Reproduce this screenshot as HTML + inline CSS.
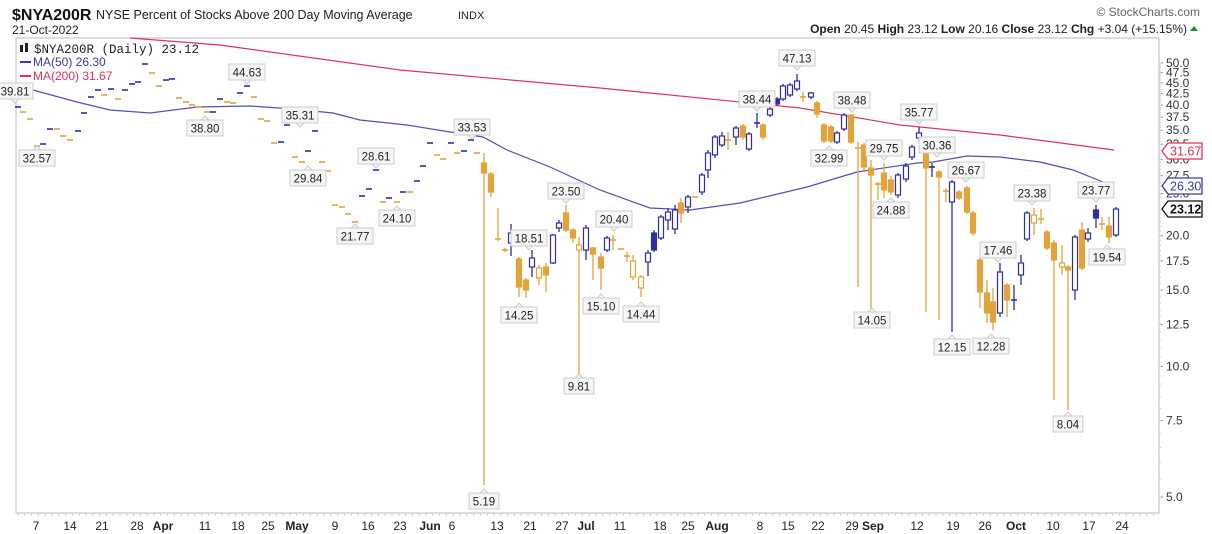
<!DOCTYPE html>
<html><head><meta charset="utf-8"><style>
body{margin:0;background:#fff;width:1212px;height:534px;overflow:hidden;font-family:"Liberation Sans",sans-serif}
svg{position:absolute;left:0;top:0}
</style></head><body>
<svg id="s" width="1212" height="534" xmlns="http://www.w3.org/2000/svg" font-family="Liberation Sans, sans-serif">
<rect x="16" y="38" width="1143" height="475" fill="#fff" stroke="#bbb"/>
<text x="12" y="20" font-size="16" font-weight="bold" fill="#111">$NYA200R</text>
<text x="96" y="19" font-size="12.5" fill="#222">NYSE Percent of Stocks Above 200 Day Moving Average</text>
<text x="458" y="19" font-size="11" fill="#222">INDX</text>
<text x="12" y="34" font-size="12" fill="#222">21-Oct-2022</text>
<text x="1200" y="16" font-size="12" fill="#666" text-anchor="end">© StockCharts.com</text>
<text x="1187" y="33" font-size="12" fill="#222" text-anchor="end"><tspan font-weight="bold">Open</tspan> 20.45  <tspan font-weight="bold">High</tspan> 23.12  <tspan font-weight="bold">Low</tspan> 20.16  <tspan font-weight="bold">Close</tspan> 23.12  <tspan font-weight="bold">Chg</tspan> +3.04 (+15.15%)</text>
<polygon points="1190,31 1198,31 1194,26" fill="#2a8a2a"/>
<g id="g"></g>
<text x="34" y="53" font-size="12.5" fill="#222" font-family="Liberation Mono, monospace">$NYA200R (Daily) 23.12</text>
<rect x="20" y="45" width="3" height="7" fill="#222"/><rect x="25" y="43" width="3" height="9" fill="#222"/>
<line x1="20" y1="62" x2="31" y2="62" stroke="#3a3aa8" stroke-width="2"/>
<text x="33" y="66" font-size="12" fill="#3a3aa8">MA(50) 26.30</text>
<line x1="20" y1="76" x2="31" y2="76" stroke="#e03358" stroke-width="2"/>
<text x="33" y="80" font-size="12" fill="#e03358">MA(200) 31.67</text>
</svg>
<script>
var g=document.getElementById('g'),h='';
var GO='#e2a33a',BL='#2e2e9e';
function Y(v){return 63+434*Math.log10(50/v);}
var ax=[50,47.5,45,42.5,40,37.5,35,32.5,30,27.5,25,20,17.5,15,12.5,10,7.5,5];
ax.forEach(function(v){var y=Y(v);h+='<line x1="1159" y1="'+y+'" x2="1163" y2="'+y+'" stroke="#999"/><text x="1166" y="'+(y+4)+'" font-size="12" fill="#333">'+v.toFixed(1)+'</text>';});
for(var v=5;v<=50;v+=0.5){var y=Y(v);h+='<line x1="1159" y1="'+y+'" x2="1161" y2="'+y+'" stroke="#ccc"/>';}
var xl=[[36,'7'],[70,'14'],[102,'21'],[137,'28'],[163,'Apr',1],[205,'11'],[238,'18'],[268,'25'],[297,'May',1],[335,'9'],[368,'16'],[400,'23'],[430,'Jun',1],[452,'6'],[497,'13'],[530,'21'],[562,'27'],[586,'Jul',1],[620,'11'],[660,'18'],[688,'25'],[717,'Aug',1],[760,'8'],[788,'15'],[818,'22'],[852,'29'],[873,'Sep',1],[917,'12'],[953,'19'],[985,'26'],[1016,'Oct',1],[1053,'10'],[1089,'17'],[1122,'24']];
xl.forEach(function(a){h+='<text x="'+a[0]+'" y="530" font-size="12" text-anchor="middle" fill="#222"'+(a[2]?' font-weight="bold" font-size="13"':'')+'>'+a[1]+'</text>';});
for(var x=18;x<1159;x+=6.8)h+='<line x1="'+x+'" y1="513" x2="'+x+'" y2="516" stroke="#ccc"/>';
h+='<polyline fill="none" stroke="#e03358" stroke-width="1.2" points="130,38 220,45 400,70 600,88 800,108 900,125 1000,135 1114,150"/>';
h+='<polyline fill="none" stroke="#5050b0" stroke-width="1.2" points="16,89 33,90 77,102 110,110 150,113 197,107 250,106 293,109 333,113 360,120 407,125 450,132 483,137 507,150 550,167 600,190 650,208 690,210 740,203 807,187 857,172 917,163 933,162 967,156 1000,157 1040,162 1073,170 1113,186"/>';
var d=[[18,107,BL],[23,112,GO],[30,119,GO],[37,146,GO],[43,144,BL],[50,129,BL],[57,129,GO],[63,136,GO],[70,140,GO],[78,131,BL],[84,113,BL],[91,97,BL],[98,90,BL],[104,95,GO],[111,89,BL],[118,99,GO],[125,90,BL],[132,84,BL],[138,82,BL],[145,64,BL],[152,73,GO],[159,86,GO],[166,80,BL],[172,79,BL],[179,98,GO],[186,102,GO],[192,105,GO],[199,107,GO],[207,112,GO],[213,112,BL],[220,99,BL],[227,102,GO],[233,103,GO],[240,93,BL],[247,86,BL],[254,97,GO],[261,119,GO],[267,121,GO],[274,143,GO],[281,142,BL],[287,125,BL],[295,157,GO],[302,162,GO],[308,151,BL],[315,131,BL],[322,162,GO],[328,171,GO],[335,205,GO],[342,207,GO],[348,214,GO],[355,222,GO],[362,196,BL],[369,189,BL],[376,170,BL],[383,202,GO],[389,198,BL],[397,202,GO],[403,192,BL],[410,192,GO],[417,181,BL],[423,166,BL],[430,143,BL],[437,155,GO],[443,159,GO],[451,143,BL],[457,153,GO],[464,151,BL],[471,140,BL],[477,153,GO],[505,250,GO],[613,240,GO],[621,249,GO],[627,256,GO],[695,197,GO],[728,140,GO],[757,123,BL],[803,97,GO],[858,148,GO],[878,184,GO],[932,167,BL],[946,191,GO],[1014,300,BL],[1041,219,GO],[1102,224,GO]];
var dw={498:[208,241],505:[248,252],613:[235,250],627:[252,262],728:[132,150],757:[113,128],803:[92,102],858:[142,287],878:[182,200],932:[163,177],946:[188,202],1014:[285,310],1041:[209,224],1102:[217,230]};
d.push([498,239,GO]);
d.forEach(function(a){var w=dw[a[0]];if(w)h+='<line x1="'+a[0]+'" y1="'+w[0]+'" x2="'+a[0]+'" y2="'+w[1]+'" stroke="'+a[2]+'" stroke-width="1.3"/>';h+='<line x1="'+(a[0]-3)+'" y1="'+a[1]+'" x2="'+(a[0]+3)+'" y2="'+a[1]+'" stroke="'+a[2]+'" stroke-width="1.6"/>';});
var c=[[484,163,173,153,485,GO,0],[491,174,192,172,197,GO,0],[511,233,243,224,256,BL,1],[519,259,287,257,297,GO,0],[526,280,290,278,298,GO,0],[532,258,267,250,277,BL,1],[539,268,278,265,285,GO,1],[546,267,275,263,292,GO,0],[553,235,263,234,264,BL,1],[559,223,228,220,232,BL,1],[566,213,230,205,232,GO,0],[573,230,238,228,243,GO,0],[579,245,250,237,378,GO,1],[586,228,250,225,260,BL,1],[593,248,254,247,280,GO,0],[601,257,268,253,290,GO,0],[607,238,250,236,252,BL,1],[633,261,277,255,280,GO,1],[641,277,288,275,297,GO,1],[648,253,262,250,276,BL,1],[654,233,250,230,252,BL,0],[661,217,238,215,240,BL,1],[668,212,220,208,230,BL,1],[675,210,229,205,234,BL,1],[681,203,213,198,223,GO,0],[688,197,207,195,213,BL,1],[702,175,192,173,195,BL,1],[708,153,170,150,178,BL,1],[715,137,155,135,158,BL,1],[722,136,145,132,147,BL,1],[736,128,137,126,145,BL,1],[743,126,137,124,140,GO,0],[749,134,149,132,151,BL,1],[763,125,137,123,140,GO,0],[770,109,115,106,117,BL,1],[777,99,104,97,106,BL,0],[783,86,99,84,101,BL,1],[790,85,95,83,97,BL,1],[797,81,89,74,91,BL,1],[811,93,97,92,99,BL,1],[817,103,114,101,118,GO,0],[824,125,141,123,143,GO,0],[831,127,141,125,143,GO,0],[837,133,142,131,144,BL,1],[844,115,129,113,131,BL,1],[851,115,142,114,144,GO,0],[864,145,167,143,170,GO,0],[871,168,175,160,310,GO,0],[884,173,190,163,198,GO,0],[891,180,192,176,195,GO,0],[898,175,195,173,198,BL,1],[906,166,179,163,182,BL,1],[912,147,157,145,160,BL,1],[919,133,138,127,142,BL,1],[926,153,168,150,312,GO,0],[939,172,177,170,320,GO,0],[952,182,202,180,332,BL,1],[959,192,198,190,200,GO,0],[967,188,212,186,214,GO,0],[973,213,233,211,236,GO,0],[980,260,292,258,308,GO,0],[987,293,313,280,323,GO,0],[993,302,322,288,330,GO,0],[1000,272,313,263,317,BL,1],[1007,285,300,283,317,GO,0],[1021,263,275,255,285,BL,1],[1027,213,239,211,241,BL,1],[1034,215,223,208,235,GO,1],[1047,232,248,230,250,GO,0],[1054,243,260,240,400,GO,0],[1062,263,267,245,275,GO,1],[1068,267,270,265,410,GO,0],[1075,237,290,235,300,BL,1],[1082,230,268,222,270,GO,0],[1088,233,239,228,242,BL,1],[1096,210,218,205,228,BL,0],[1109,226,237,217,243,GO,0],[1116,209,235,207,237,BL,1]];
c.forEach(function(a){h+='<line x1="'+a[0]+'" y1="'+a[3]+'" x2="'+a[0]+'" y2="'+a[4]+'" stroke="'+a[5]+'" stroke-width="1.3"/>';
h+='<rect x="'+(a[0]-2.5)+'" y="'+a[1]+'" width="5" height="'+Math.max(2,a[2]-a[1])+'" fill="'+(a[6]?'#fff':a[5])+'" stroke="'+a[5]+'" stroke-width="1.2"/>';});
var L=[['39.81',15,91,1],['32.57',37,158,-1],['38.80',205,128,-1],['44.63',247,72,1],['35.31',300,115,1],['29.84',308,178,-1],['28.61',376,156,1],['24.10',397,218,-1],['21.77',355,236,-1],['33.53',472,127,1],['5.19',484,501,-1],['18.51',529,238,1],['14.25',519,315,-1],['23.50',566,191,1],['9.81',579,386,-1],['20.40',614,219,1],['15.10',601,306,-1],['14.44',641,314,-1],['38.44',757,99,1],['47.13',797,58,1],['38.48',852,100,1],['32.99',829,158,-1],['29.75',884,148,1],['24.88',891,210,-1],['14.05',872,320,-1],['35.77',919,112,1],['30.36',937,145,1],['26.67',966,170,1],['12.15',952,347,-1],['12.28',991,346,-1],['17.46',998,250,1],['23.38',1032,193,1],['23.77',1096,190,1],['19.54',1107,257,-1],['8.04',1068,424,-1]];
L.forEach(function(a){var w=a[0].length*6.2+5,x=a[1]-w/2,y=a[2]-8;
h+='<rect x="'+x+'" y="'+y+'" width="'+w+'" height="16" fill="#f6f6f6" stroke="#ccc"/>';
var py=a[3]>0?y+16:y;h+='<polygon points="'+(a[1]-4)+','+py+' '+(a[1]+4)+','+py+' '+a[1]+','+(py+4*a[3])+'" fill="#f6f6f6" stroke="#ccc"/>';
h+='<text x="'+a[1]+'" y="'+(a[2]+4.5)+'" font-size="11.5" text-anchor="middle" fill="#222">'+a[0]+'</text>';});
function tag(t,y,col,bold){h+='<polygon points="1162,'+y+' 1168,'+(y-8)+' 1202,'+(y-8)+' 1202,'+(y+8)+' 1168,'+(y+8)+'" fill="#fff" stroke="'+col+'" stroke-width="1.3"/><text x="1170" y="'+(y+4.5)+'" font-size="12.5" fill="'+col+'"'+(bold?' font-weight="bold"':'')+'>'+t+'</text>';}
tag('31.67',151,'#e03358');tag('26.30',186,'#3a3aa8');tag('23.12',209,'#111',1);
g.innerHTML=h;
</script>
</body></html>
